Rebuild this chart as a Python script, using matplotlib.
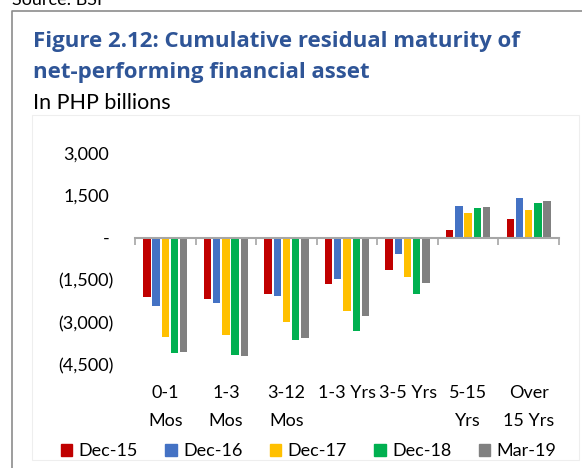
import numpy as np
import matplotlib
matplotlib.use("Agg")
import matplotlib.pyplot as plt
from matplotlib.patches import Patch, Rectangle
from matplotlib.lines import Line2D
from matplotlib.transforms import ScaledTranslation

plt.rcParams['font.family'] = ['Lato', 'DejaVu Sans']

# Data (PHP billions)
categories = ['0-1\nMos', '1-3\nMos', '3-12\nMos', '1-3 Yrs', '3-5 Yrs', '5-15\nYrs', 'Over\n15 Yrs']
series_names = ['Dec-15', 'Dec-16', 'Dec-17', 'Dec-18', 'Mar-19']
dec15 = [-2080, -2170, -1990, -1620, -1130, 290, 670]
dec16 = [-2400, -2300, -2050, -1460, -560, 1130, 1410]
dec17 = [-3490, -3440, -2970, -2570, -1380, 880, 990]
dec18 = [-4050, -4140, -3600, -3280, -1970, 1060, 1210]
mar19 = [-4030, -4160, -3530, -2770, -1600, 1070, 1280]
yticks = [-4500, -3000, -1500, 0, 1500, 3000]
ytick_labels = ['(4,500)', '(3,000)', '(1,500)', '-', '1,500', '3,000']

colors = ['#C00000', '#4472C4', '#FFC000', '#00B050', '#808080']
W, H = 582, 468

fig = plt.figure(figsize=(W / 100, H / 100), dpi=100)


def fx(px):
    return px / W


def fy(py):
    return 1 - py / H


# outer frame and faint chart-area box
fig.add_artist(Line2D([fx(12), fx(12), fx(582)], [fy(468), fy(11), fy(11)],
                      color='#8C8C8C', lw=1.2))
fig.add_artist(Rectangle((fx(32), fy(460)), fx(579) - fx(32), fy(115) - fy(460),
                         transform=fig.transFigure, fill=False, ec='#EEEEEE', lw=0.8))

fig.text(fx(12), fy(5), 'Source: BSI', fontsize=13, va='baseline')
title_font = dict(family=['Open Sans', 'DejaVu Sans'], fontsize=16, weight='bold',
                  color='#2F5597', va='baseline')
fig.text(fx(33), fy(47), 'Figure 2.12: Cumulative residual maturity of', **title_font)
fig.text(fx(33), fy(78), 'net-performing financial asset', **title_font)
fig.text(fx(33), fy(109), 'In PHP billions', fontsize=15.5, va='baseline')

ax = fig.add_axes([fx(135), fy(365.3), fx(559) - fx(135), fy(152.7) - fy(365.3)])

x = np.arange(len(categories))
pitch = 0.152
for i, (vals, c) in enumerate(zip([dec15, dec16, dec17, dec18, mar19], colors)):
    ax.bar(x + (i - 2) * pitch, vals, width=0.122, color=c, label=series_names[i])

ax.set_xlim(-0.5, len(categories) - 0.5)
ax.set_ylim(-4500, 3000)

for s in ['top', 'right', 'left']:
    ax.spines[s].set_visible(False)
ax.spines['bottom'].set_position(('data', 0))
ax.spines['bottom'].set_color('#A6A6A6')
ax.spines['bottom'].set_linewidth(1.5)
ax.set_xticks(np.arange(len(categories) + 1) - 0.5)
ax.tick_params(axis='x', length=5, width=1.2, color='#A6A6A6', labelbottom=False)

ax.set_yticks(yticks)
ax.set_yticklabels(ytick_labels)
ax.tick_params(axis='y', length=0, pad=15.6, labelsize=13)
for v, lab in zip(yticks, ax.get_yticklabels()):
    if v >= 0:
        lab.set_transform(lab.get_transform() + ScaledTranslation(-4 / 100, 0, fig.dpi_scale_trans))

sec = ax.secondary_xaxis('bottom')
sec.set_xticks(x)
sec.set_xticklabels(categories, linespacing=1.9)
sec.tick_params(length=0, pad=14.5, labelsize=13)
sec.spines['bottom'].set_visible(False)

handles = [Patch(color=c) for c in colors]
fig.legend(handles, series_names, loc='center', bbox_to_anchor=(fx(308.5), fy(451.5)),
           ncol=5, frameon=False, fontsize=13, handlelength=0.65, handleheight=0.65,
           handletextpad=0.35, columnspacing=1.5, borderpad=0, borderaxespad=0)

fig.savefig('out.png', dpi=100)
